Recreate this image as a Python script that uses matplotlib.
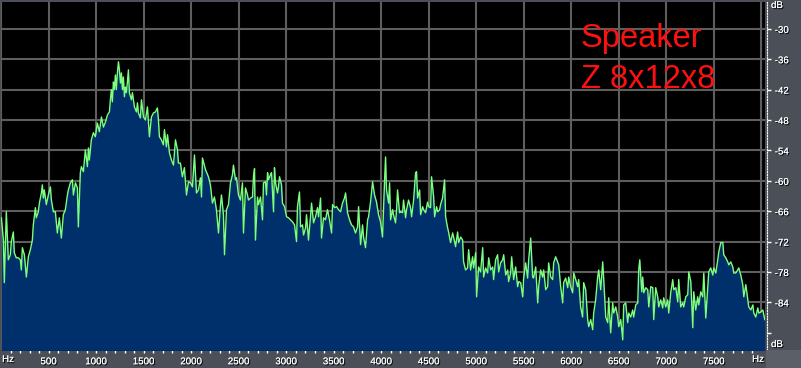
import matplotlib
matplotlib.use("Agg")
import matplotlib.pyplot as plt
import matplotlib.patheffects as pe
from matplotlib.patches import Rectangle

# ---------------- data ----------------
freq_hz = [
    4, 25, 35, 56, 77, 98, 109, 130, 140, 161, 183, 204, 214, 225, 246, 267, 288, 309, 330, 340,
    362, 372, 393, 404, 425, 435, 446, 456, 477, 498, 520, 530, 551, 572, 593, 614, 635, 656, 677, 699,
    709, 730, 751, 762, 783, 804, 814, 835, 846, 867, 888, 909, 920, 930, 951,
    972, 993, 1014, 1035, 1057, 1078, 1099, 1120, 1141, 1151, 1162, 1172, 1183, 1193, 1204, 1214, 1225,
    1236, 1246, 1257, 1267, 1278, 1288, 1299, 1309, 1320, 1341, 1351, 1372, 1383, 1404, 1425, 1436, 1446,
    1467, 1478, 1499, 1520, 1541, 1562, 1583, 1604, 1625, 1646, 1657, 1667, 1688, 1709, 1720, 1741, 1752,
    1773, 1794, 1815, 1836, 1857, 1867, 1888, 1909, 1930, 1952, 1973, 1994, 2015, 2036, 2057, 2078, 2099,
    2110, 2120,
    2152, 2183, 2204, 2225, 2246, 2267, 2289, 2310, 2320, 2341, 2352, 2373, 2394, 2415, 2436, 2446, 2468,
    2478, 2499, 2520, 2541, 2552, 2573, 2594, 2604, 2626,
    2647, 2657, 2668, 2678, 2699, 2710, 2731, 2752, 2762, 2783, 2794, 2805, 2815, 2836, 2847, 2868, 2878,
    2889, 2910, 2920, 2931, 2952, 2962, 2984, 3005, 3026, 3047, 3068, 3089, 3110, 3120, 3141, 3152, 3173,
    3184, 3205, 3215, 3236, 3257, 3268, 3289, 3310, 3331, 3342, 3363, 3373, 3394, 3415, 3436, 3457, 3479,
    3489, 3510, 3531, 3552, 3573, 3594, 3615, 3626, 3647, 3668, 3689, 3710, 3731, 3752, 3763, 3784, 3805,
    3815, 3836, 3858, 3868, 3889, 3910, 3931, 3952, 3973, 3994,
    4015, 4026, 4036, 4047, 4057, 4079, 4089, 4100, 4121, 4131, 4152, 4163, 4173, 4194, 4205, 4226, 4236,
    4258, 4268, 4289, 4310, 4321, 4342, 4363, 4373, 4384, 4405, 4416, 4437, 4447, 4468, 4489, 4500, 4521,
    4531, 4553, 4563, 4584, 4595, 4616, 4626, 4647, 4668, 4679, 4700, 4710, 4731, 4753, 4763, 4784, 4805,
    4816, 4837, 4858, 4868, 4889, 4910, 4921, 4942, 4963, 4974, 4995, 5005, 5026, 5047, 5069, 5079, 5100,
    5121, 5132, 5153, 5174, 5184, 5205, 5226, 5237,
    5258, 5279, 5290, 5311, 5332, 5342, 5363, 5374, 5395, 5416, 5437, 5448, 5469, 5490, 5500, 5521, 5542,
    5553, 5574, 5595, 5605, 5627, 5648, 5658, 5679, 5700, 5711, 5732, 5753, 5763, 5785, 5806, 5816, 5837,
    5858, 5869, 5890, 5911, 5921, 5942, 5964, 5974, 5995, 6016, 6027, 6048, 6069, 6079, 6100, 6121, 6132,
    6153, 6174, 6185, 6206, 6227, 6237, 6258, 6279, 6290, 6311, 6332, 6343, 6364, 6385, 6395, 6416, 6437,
    6448, 6469, 6490, 6501, 6522, 6543, 6553,
    6574, 6595, 6606, 6627, 6648, 6658, 6680, 6701, 6711, 6722, 6743, 6753, 6764, 6785, 6806, 6817, 6838,
    6859, 6869, 6890, 6911, 6922, 6943, 6964, 6974, 6995, 7016, 7027, 7048, 7069, 7080, 7101, 7122, 7132,
    7153, 7174, 7185, 7206, 7227, 7238, 7259, 7280, 7290, 7311, 7332, 7343, 7364, 7385, 7396, 7417, 7438,
    7448, 7469, 7490, 7501, 7522, 7543, 7554, 7575, 7596, 7606, 7627, 7648, 7659, 7680, 7701, 7711, 7732,
    7753, 7764, 7785, 7806, 7817, 7838, 7859, 7869, 7891, 7912, 7922, 7943, 7964, 7975, 7996, 8017, 8038,
]

level_db = [
    -67.3, -71.7, -80.1, -66.1, -75.6, -74.6, -72.0, -70.1, -74.2, -75.2, -75.2, -75.6, -77.6, -73.2, -74.6, -79.0, -75.0, -73.6, -71.7, -68.7,
    -65.3, -67.3, -66.1, -64.4, -62.4, -60.8, -63.4, -61.8, -64.7, -62.8, -61.2, -63.8, -66.1, -66.1, -70.3, -67.3, -71.3, -66.7, -65.7, -62.8,
    -61.8, -60.4, -59.8, -62.8, -60.4, -61.4, -69.1, -58.4, -57.2, -58.2, -53.9, -57.2, -53.5, -55.9, -51.9,
    -50.5, -51.3, -48.6, -50.3, -47.4, -49.4, -48.4, -47.0, -46.4, -44.0, -42.0, -44.4, -40.5, -42.0, -39.1, -42.0, -38.7,
    -36.5, -38.1, -40.7, -38.7, -42.0, -39.5, -43.4, -41.5, -42.6, -38.1, -42.6, -44.0, -42.6, -45.4, -46.4, -44.6, -46.6,
    -47.6, -44.0, -47.4, -48.0, -45.4, -51.3, -47.4, -46.6, -46.4, -45.6, -48.0, -51.3, -51.9, -52.9, -49.9, -53.3, -50.9,
    -54.5, -55.9, -56.9, -51.9, -53.9, -56.5, -56.5, -59.2, -57.4, -62.8, -60.2, -60.4, -61.2, -54.9, -62.4, -61.8, -59.4,
    -63.2, -55.5,
    -57.8, -59.2, -60.8, -64.4, -63.2, -65.7, -70.3, -64.7, -62.8, -66.7, -74.6, -65.7, -64.7, -60.4, -58.8, -56.9, -59.8,
    -59.4, -62.8, -63.8, -60.4, -70.3, -61.4, -62.8, -63.8, -63.4,
    -63.2, -59.2, -57.6, -71.7, -63.2, -64.7, -63.2, -67.7, -60.4, -60.2, -62.8, -58.4, -59.8, -58.8, -58.4, -66.1, -57.4,
    -60.4, -62.4, -61.2, -59.2, -60.8, -64.4, -65.1, -67.1, -67.3, -67.7, -68.1, -68.7, -72.0, -65.1, -62.2, -69.1, -68.7,
    -70.7, -69.3, -66.7, -71.7, -67.1, -64.4, -68.3, -67.1, -65.3, -67.1, -63.4, -71.3, -67.3, -67.7, -65.7, -67.7, -70.3,
    -64.7, -65.3, -65.1, -65.7, -66.1, -64.4, -63.4, -62.4, -66.3, -67.7, -68.7, -69.1, -70.3, -69.1, -65.1, -72.6, -68.7,
    -71.1, -73.2, -67.7, -67.1, -64.2, -60.2, -62.8, -64.2, -66.7, -68.1,
    -71.1, -65.1, -60.2, -55.3, -61.8, -64.4, -60.4, -67.7, -65.7, -66.7, -68.3, -65.7, -61.8, -66.3, -66.1, -66.3, -63.8,
    -67.3, -65.7, -63.8, -65.3, -67.1, -63.8, -58.4, -58.2, -63.4, -61.8, -66.7, -65.1, -65.7, -66.3, -64.2, -65.1, -65.3,
    -59.2, -63.2, -67.1, -65.1, -66.1, -65.7, -64.7, -63.4, -59.8, -67.1, -69.3, -70.1, -72.2, -70.3, -71.1, -73.0, -70.1,
    -72.2, -71.1, -71.7, -76.0, -77.6, -77.2, -73.6, -77.6, -75.0, -77.2, -74.2, -82.9, -77.0, -78.0, -73.2, -79.0, -77.2,
    -78.2, -75.2, -77.6, -77.0, -79.5, -75.6, -74.6, -78.0,
    -76.2, -75.6, -74.6, -78.6, -77.6, -79.9, -78.2, -75.0, -79.5, -77.0, -80.9, -79.9, -80.1, -82.9, -79.2, -76.2, -79.2,
    -75.6, -71.3, -79.0, -79.2, -77.0, -84.1, -80.9, -77.6, -79.0, -77.6, -81.5, -80.9, -76.2, -79.0, -79.5, -76.2, -75.0,
    -76.0, -76.6, -80.9, -84.1, -80.1, -79.2, -81.1, -79.0, -80.9, -82.1, -78.2, -79.5, -80.9, -79.5, -84.9, -86.9, -80.1,
    -81.5, -87.4, -88.8, -87.4, -89.4, -86.1, -83.5, -79.0, -77.6, -81.5, -76.0, -79.5, -86.9, -88.0, -83.1, -90.0, -84.1,
    -86.1, -84.9, -86.9, -88.8, -87.4, -91.4, -84.5,
    -84.1, -88.0, -86.1, -86.9, -85.5, -86.9, -84.5, -84.1, -77.6, -75.6, -81.9, -79.0, -82.1, -81.1, -81.5, -84.9, -80.9,
    -81.1, -87.4, -81.1, -82.9, -84.9, -83.5, -85.1, -83.1, -84.9, -83.5, -86.1, -82.1, -79.5, -81.5, -81.1, -83.9, -79.5,
    -84.9, -84.1, -84.9, -82.9, -82.5, -78.0, -79.9, -89.0, -81.9, -85.5, -82.9, -84.5, -81.9, -82.9, -78.2, -87.1, -80.9,
    -78.0, -77.2, -78.6, -77.2, -78.2, -75.6, -74.0, -72.2, -72.2, -74.6, -75.2, -76.0, -76.6, -76.0, -77.0, -78.2, -78.2,
    -77.6, -77.2, -78.6, -80.5, -82.9, -80.5, -83.5, -84.9, -85.5, -84.5, -86.1, -86.9, -85.1, -86.1, -85.9, -85.5, -87.4,
]

x_ticks = [500, 1000, 1500, 2000, 2500, 3000, 3500, 4000, 4500, 5000, 5500, 6000, 6500, 7000, 7500]
y_ticks = [-30, -36, -42, -48, -54, -60, -66, -72, -78, -84]
title_lines = ["Speaker", "Z 8x12x8"]

# ---------------- styling ----------------
W, H = 801, 368
PANEL = "#4a4f58"
GRID = "#5e5e5e"
FILL = "#00306c"
LINE = "#7cff7c"

fig = plt.figure(figsize=(W / 100, H / 100), dpi=100, facecolor=PANEL)
ax = fig.add_axes([1 / W, 18 / H, 764 / W, 348 / H])
ax.set_facecolor("black")
ax.set_xlim(0, 8040)
ax.set_ylim(-93.4, -24.7)

for fx in [0] + x_ticks + [8000]:
    ax.axvline(fx, color=GRID, lw=1.5, zorder=0)
for dy in y_ticks:
    ax.axhline(dy, color=GRID, lw=1.5, zorder=0)

ax.fill_between(freq_hz, level_db, -100, color=FILL, lw=0, zorder=2)
ax.plot(freq_hz, level_db, color=LINE, lw=1.0, zorder=3)

for s in ["top", "left", "bottom"]:
    ax.spines[s].set_visible(False)
ax.spines["right"].set_color("white")
ax.spines["right"].set_linestyle((0, (1, 1.5)))
ax.spines["right"].set_linewidth(0.8)
ax.spines["right"].set_position(("outward", 1.5))

shadow = [pe.withSimplePatchShadow(offset=(0.8, -0.8), shadow_rgbFace="black", alpha=1.0), pe.Normal()]
tick_font = dict(family="Liberation Sans", size=7)

ax.set_xticks(x_ticks)
ax.set_xticklabels([str(v) for v in x_ticks], fontdict=tick_font)
ax.set_xticks(list(range(100, 8000, 100)), minor=True)
ax.tick_params(axis="x", which="both", colors="white", length=2, width=1, pad=2.5, direction="out")
for lbl in ax.get_xticklabels():
    lbl.set_path_effects(shadow)

ax.yaxis.tick_right()
ax.set_yticks(y_ticks)
ax.set_yticklabels([str(v) for v in y_ticks], fontdict=tick_font)
ax.set_yticks([-90], minor=True)
ax.tick_params(axis="y", which="both", colors="white", length=3, width=1, pad=2.5, direction="out")
for lbl in ax.get_yticklabels():
    lbl.set_path_effects(shadow)

# unit labels
def ftxt(px, py, s, **kw):
    t = fig.text(px / W, 1 - py / H, s, color="white", path_effects=shadow, **tick_font, **kw)
    return t

ftxt(8, 359, "Hz", ha="center", va="center")
ftxt(758, 359, "Hz", ha="center", va="center")
ftxt(771, 5, "dB", ha="left", va="center")
ftxt(771, 344, "dB", ha="left", va="center")

# lighter corner block
fig.patches.append(Rectangle((766 / W, 0), 35 / W, 18 / H, transform=fig.transFigure,
                             facecolor="#5a5f68", edgecolor="none", zorder=0))

# title in red
fig.text(581 / W, 1 - 47 / H, title_lines[0], color="#ff1010", family="Liberation Sans",
         size=23.5, ha="left", va="baseline")
fig.text(581 / W, 1 - 88 / H, title_lines[1], color="#ff1010", family="Liberation Sans",
         size=23.5, ha="left", va="baseline")

fig.savefig("out.png", dpi=100, facecolor=PANEL)
